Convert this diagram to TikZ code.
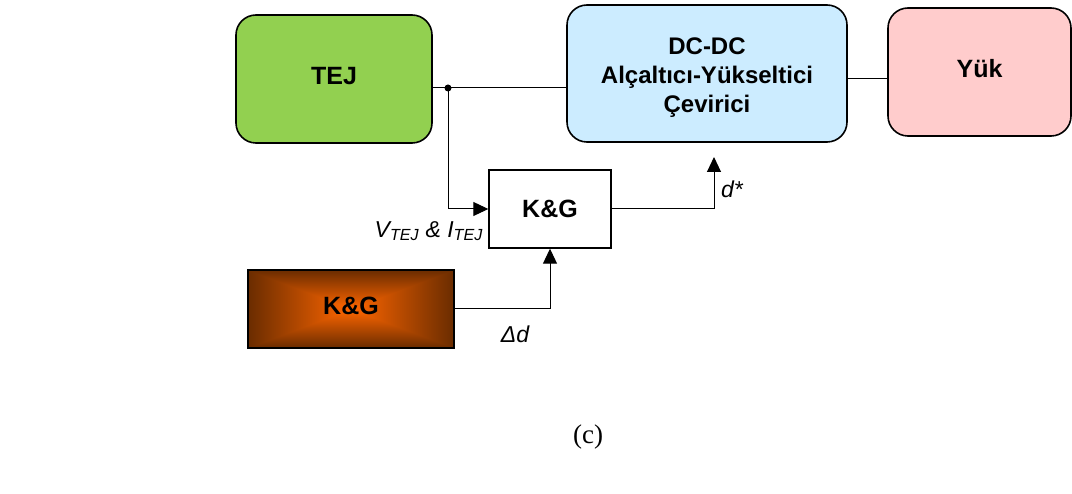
\documentclass[tikz,border=0pt]{standalone}
\usepackage{fontspec}
\setmainfont{Liberation Sans}
\newfontfamily\capfont{Liberation Serif}
\usetikzlibrary{arrows.meta}

\definecolor{tejgreen}{HTML}{92D050}
\definecolor{dcblue}{HTML}{CCECFF}
\definecolor{yukpink}{HTML}{FFCCCC}
\definecolor{kgorange}{HTML}{FF6600}
\definecolor{kgdark}{HTML}{6A2C00}

% edge-to-centre shadings for the orange block
\pgfdeclareverticalshading{kgvert}{100bp}{color(0bp)=(kgdark); color(25bp)=(kgdark); color(50bp)=(kgorange); color(75bp)=(kgdark); color(100bp)=(kgdark)}
\pgfdeclarehorizontalshading{kghorz}{100bp}{color(0bp)=(kgdark); color(25bp)=(kgdark); color(50bp)=(kgorange); color(75bp)=(kgdark); color(100bp)=(kgdark)}

\tikzset{
  blok/.style={draw, line width=1.6pt, rounded corners=20pt, align=center,
    text height=18pt, text depth=6pt, font=\bfseries\fontsize{25}{29}\selectfont},
  kutu/.style={draw, line width=1.4pt, minimum width=122pt, minimum height=78pt,
    font=\bfseries\fontsize{25}{29}\selectfont},
  ok/.style={-{Triangle[length=15pt,width=14pt]}, line width=1pt},
  hat/.style={line width=1pt},
  etiket/.style={font=\itshape\fontsize{23}{27}\selectfont, inner sep=0pt},
}

\begin{document}
\begin{tikzpicture}[x=1pt, y=-1pt]
  \useasboundingbox (0,0) rectangle (1072,494);
  % blocks
  \node [blok, fill=tejgreen, minimum width=196pt, minimum height=128pt] (tej) at (334,79) {TEJ};
  \node [blok, fill=dcblue, minimum width=280pt, minimum height=137pt,
    text height=81pt, text depth=2pt, font=\bfseries\fontsize{24}{29}\selectfont] (dc) at (707,73.5)
    {DC-DC\\Alçaltıcı-Yükseltici\\Çevirici};
  \node [blok, fill=yukpink, minimum width=183pt, minimum height=128pt] (yuk) at (979.5,72) {Yük};
  \node [kutu, fill=white] (kg) at (550,209) {K\&G};
  \node [kutu, minimum width=206pt, text height=18pt, text depth=6pt,
    path picture={
      \shade [shading=kgvert]
        (path picture bounding box.north west) rectangle (path picture bounding box.south east);
      \begin{scope}
        \clip (path picture bounding box.north west) -- (path picture bounding box.center)
          -- (path picture bounding box.south west) -- cycle
          (path picture bounding box.north east) -- (path picture bounding box.center)
          -- (path picture bounding box.south east) -- cycle;
        \shade [shading=kghorz]
          (path picture bounding box.north west) rectangle (path picture bounding box.south east);
      \end{scope}
    }] (okg) at (351,309) {K\&G};
  % connectors
  \coordinate (jn) at (448,88);
  \coordinate (yl) at (867,79);
  \coordinate (dstar) at (714,157);
  \draw [hat] (tej.east |- jn) -- (dc.west |- jn);
  \fill (jn) circle (3.5pt);
  \draw [hat] (dc.east |- yl) -- (yuk.west |- yl);
  \draw [ok] (jn) |- (kg.west);
  \draw [ok] (okg.east) -| (kg.south);
  \draw [ok] (kg.east) -| (dstar);
  % labels
  \node [etiket, anchor=east] (vi) at (483,231) {V\textsubscript{TEJ} \& I\textsubscript{TEJ}};
  \node [etiket] (dd) at (515,334) {Δd};
  \node [etiket, anchor=west] (ds) at (721,189) {d*};
  \node [font=\capfont\fontsize{27}{31}\selectfont] (cap) at (588,437) {(c)};
\end{tikzpicture}
\end{document}
